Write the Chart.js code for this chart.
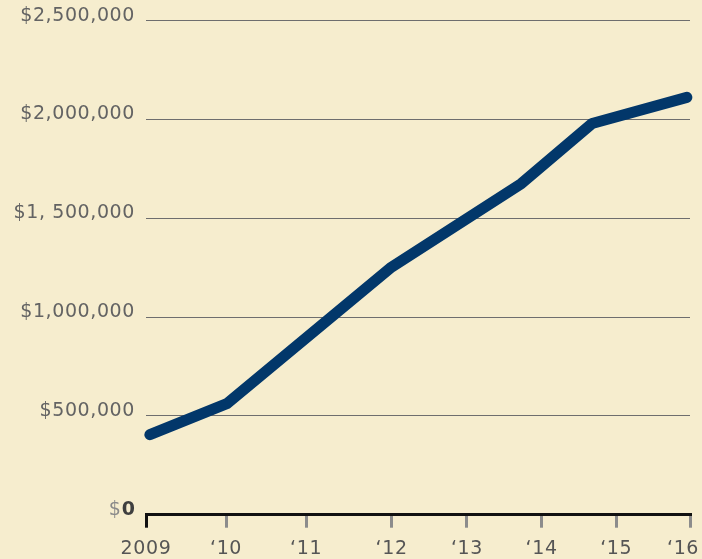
<!DOCTYPE html>
<html>
<head>
<meta charset="utf-8">
<script src="https://cdn.jsdelivr.net/npm/chart.js@4"></script>
<style>
  html, body { margin: 0; padding: 0; background: #f6edce; }
  canvas { display: block; }
</style>
</head>
<body>
<canvas id="c" width="702" height="559"></canvas>
<script>
// Data
const years = [2009.05, 2010.04, 2012.16, 2013.83, 2014.74, 2015.96];
const revenue = [405000, 562000, 1253000, 1676000, 1980000, 2112000];
const tickYears = [2009, 2010.03, 2011.06, 2012.16, 2013.13, 2014.09, 2015.05, 2016];
const tickLabels = ['2009', '\u201810', '\u201811', '\u201812', '\u201813', '\u201814', '\u201815', '\u201816'];
const yTicks = [0, 500000, 1000000, 1500000, 2000000, 2500000];
const yTickLabels = ['$0', '$500,000', '$1,000,000', '$1, 500,000', '$2,000,000', '$2,500,000'];

const FONT = '"DejaVu Sans", sans-serif';
const LS = '0.6px';

const spacing = {
  id: 'spacing',
  beforeInit(chart) { chart.ctx.letterSpacing = LS; },
  beforeLayout(chart) { chart.ctx.letterSpacing = LS; },
  beforeDraw(chart) { chart.ctx.letterSpacing = LS; }
};

// keep the last x label inside the canvas, as in the reference
const lastLabelInside = {
  id: 'lastLabelInside',
  beforeDraw(chart) {
    const x = chart.scales.x;
    const items = x.getLabelItems(chart.chartArea);
    const last = items[items.length - 1];
    if (last && !last._shifted) {
      last.options.translation[0] -= 7;
      last._shifted = true;
    }
  }
};

const zeroLabel = {
  id: 'zeroLabel',
  afterDraw(chart) {
    const y = chart.scales.y;
    const ctx = chart.ctx;
    const py = y.getPixelForValue(0) - 5;
    const right = chart.chartArea.left - 11;
    ctx.save();
    ctx.letterSpacing = '0px';
    ctx.textBaseline = 'middle';
    ctx.textAlign = 'right';
    ctx.font = 'bold 19px ' + FONT;
    ctx.fillStyle = '#3f3f3f';
    const zw = ctx.measureText('0').width;
    ctx.fillText('0', right, py);
    ctx.font = '19px ' + FONT;
    ctx.fillStyle = '#8a8a8a';
    ctx.fillText('$', right - zw - 1, py);
    ctx.restore();
  }
};

new Chart(document.getElementById('c'), {
  type: 'line',
  data: {
    datasets: [{
      data: years.map((x, i) => ({ x: x, y: revenue[i] })),
      borderColor: '#02376a',
      borderWidth: 11,
      borderCapStyle: 'round',
      borderJoinStyle: 'round',
      pointRadius: 0,
      tension: 0,
      fill: false,
      clip: false
    }]
  },
  options: {
    responsive: false,
    animation: false,
    layout: { padding: { top: 20.7, right: 12, bottom: 0, left: 0 } },
    plugins: { legend: { display: false }, tooltip: { enabled: false } },
    scales: {
      x: {
        type: 'linear',
        min: 2009,
        max: 2016,
        afterBuildTicks: s => { s.ticks = tickYears.map(v => ({ value: v })); },
        afterFit: s => { s.height = 44.3; s.paddingLeft = 0; s.paddingRight = 0; },
        grid: {
          display: true,
          drawOnChartArea: false,
          drawTicks: true,
          tickLength: 13,
          lineWidth: 3,
          color: ctx => ctx.index === 0 ? '#111111' : '#8c8c8c'
        },
        border: { display: true, color: '#111111', width: 3 },
        ticks: {
          autoSkip: false,
          maxRotation: 0,
          padding: 10,
          color: '#555555',
          font: { family: FONT, size: 19 },
          callback: (v, i) => tickLabels[i]
        }
      },
      y: {
        type: 'linear',
        min: 0,
        max: 2500000,
        afterBuildTicks: s => { s.ticks = yTicks.map(v => ({ value: v })); },
        afterFit: s => { s.width = 146; s.paddingTop = 0; s.paddingBottom = 0; },
        grid: {
          drawTicks: false,
          lineWidth: 1,
          color: ctx => (ctx.tick && ctx.tick.value === 0) ? 'rgba(0,0,0,0)' : '#6e6e6e'
        },
        border: { display: false },
        ticks: {
          padding: 11,
          labelOffset: -5,
          color: '#636363',
          font: { family: FONT, size: 19 },
          callback: (v, i) => i === 0 ? '' : yTickLabels[i]
        }
      }
    }
  },
  plugins: [spacing, lastLabelInside, zeroLabel]
});
</script>
</body>
</html>
